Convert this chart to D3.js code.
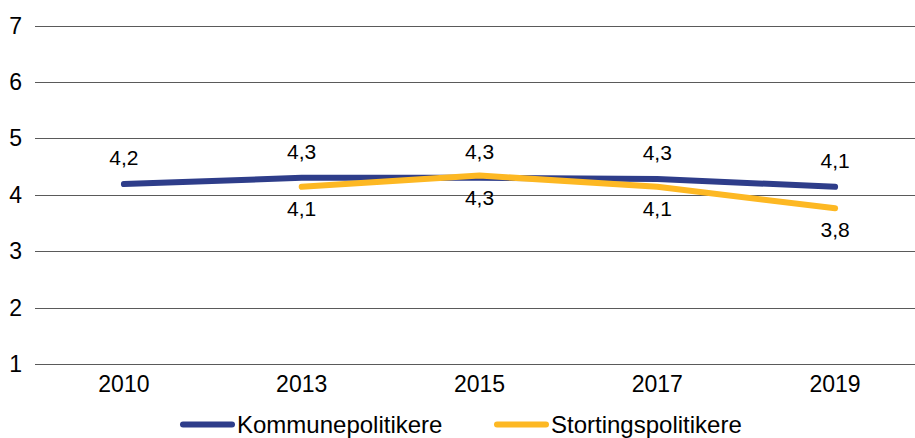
<!DOCTYPE html>
<html>
<head>
<meta charset="utf-8">
<script src="https://cdn.jsdelivr.net/npm/d3@7"></script>
<style>
  html, body { margin: 0; padding: 0; background: #fff; }
  svg { display: block; font-family: "Liberation Sans", Arial, sans-serif; }
</style>
</head>
<body>
<svg id="chart" width="915" height="438"></svg>
<script>
const years = ["2010", "2013", "2015", "2017", "2019"];
const kommune = [4.19, 4.30, 4.30, 4.28, 4.14];
const storting = [null, 4.14, 4.34, 4.14, 3.76];
const yTicks = [1, 2, 3, 4, 5, 6, 7];
const seriesNames = ["Kommunepolitikere", "Stortingspolitikere"];
const colors = ["#2e3d8a", "#fdb823"];

const svg = d3.select("#chart");
const x = d3.scalePoint().domain(years).range([35, 924]).padding(0.5);
const y = d3.scaleLinear().domain([1, 7]).range([364, 25.5]);

// gridlines
svg.append("g").selectAll("line").data(yTicks).join("line")
  .attr("x1", 35).attr("x2", 915)
  .attr("y1", d => Math.round(y(d)) + 0.5).attr("y2", d => Math.round(y(d)) + 0.5)
  .attr("stroke", "#5a5a5a").attr("stroke-width", 1.2);

// y labels
svg.append("g").selectAll("text").data(yTicks).join("text")
  .attr("x", 22).attr("y", d => y(d) + 8)
  .attr("text-anchor", "end").attr("font-size", 23).attr("fill", "#000")
  .text(d => d);

// x labels
svg.append("g").selectAll("text").data(years).join("text")
  .attr("x", d => x(d)).attr("y", 392)
  .attr("text-anchor", "middle").attr("font-size", 23).attr("fill", "#000")
  .text(d => d);

const fmt = v => d3.format(".1f")(v).replace(".", ",");
const seriesData = [kommune, storting];

seriesData.forEach((vals, i) => {
  const pts = years.map((yr, j) => ({ yr, v: vals[j] })).filter(p => p.v != null);
  const line = d3.line().x(p => x(p.yr)).y(p => y(p.v));
  svg.append("path").datum(pts)
    .attr("d", line).attr("fill", "none")
    .attr("stroke", colors[i]).attr("stroke-width", 6)
    .attr("stroke-linecap", "round").attr("stroke-linejoin", "round");
});

// labels
seriesData.forEach((vals, i) => {
  const pts = years.map((yr, j) => ({ yr, v: vals[j] })).filter(p => p.v != null);
  svg.append("g").selectAll("text").data(pts).join("text")
    .attr("x", p => x(p.yr))
    .attr("y", p => i === 0 ? y(p.v) - 19 : y(p.v) + 29)
    .attr("text-anchor", "middle").attr("font-size", 21).attr("fill", "#000")
    .text(p => fmt(p.v));
});

// legend
const legX = [183, 497];
seriesNames.forEach((name, i) => {
  const g = svg.append("g");
  g.append("line").attr("x1", legX[i]).attr("x2", legX[i] + 49)
    .attr("y1", 424.5).attr("y2", 424.5)
    .attr("stroke", colors[i]).attr("stroke-width", 6).attr("stroke-linecap", "round");
  g.append("text").attr("x", legX[i] + 54).attr("y", 433)
    .attr("font-size", 24).attr("fill", "#000").text(name);
});
</script>
</body>
</html>
